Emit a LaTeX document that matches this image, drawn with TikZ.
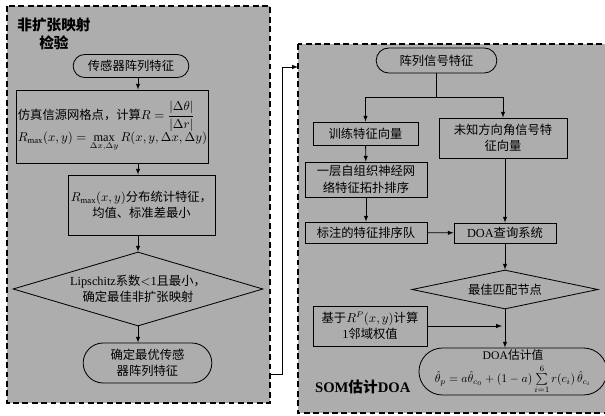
\documentclass[tikz,border=0pt]{standalone}
\usepackage{fontspec}
\usepackage{amsmath}
\setmainfont{Liberation Serif}
\newfontfamily\cjk{Noto Sans CJK SC}
\usetikzlibrary{calc,shapes.geometric,shapes.misc}
\tikzset{
  >=latex,
  panel/.style={draw, line width=0.5mm, dashed, dash pattern=on 5pt off 3pt, fill=black!32},
  box/.style={draw, line width=0.25mm, inner sep=1pt, align=center, font=\fontsize{10.5}{14}\selectfont},
  pill/.style={box, rounded rectangle},
  rhomb/.style={box, diamond, inner sep=0pt},
  title/.style={align=center, font=\fontsize{12.5}{15}\selectfont\bfseries},
  arr/.style={->, line width=0.25mm}
}
\begin{document}
\begin{tikzpicture}[x=0.03cm,y=-0.03cm]
		%%%%% START %%%%%
		\useasboundingbox (0,0) rectangle (605,416);
		
		% left panel
		\draw[panel] (7,6) rectangle (270,403);
		\node[title] (ttlL) at (54,34) {\cjk 非扩张映射\\\cjk 检验};
		
		\node[pill, minimum width=118*0.3mm, minimum height=23*0.3mm] (start1) at (131,66) {\cjk 传感器阵列特征};
		\node[box, minimum width=141*0.3mm, minimum height=73*0.3mm, align=left] (sim) at (112.5,126.5)
			{{\cjk 仿真信源网格点，计算}$R=\dfrac{|\Delta\theta|}{|\Delta r|}$\\[-1pt]
			 $R_{\max}(x,y)=\max\limits_{\Delta x,\Delta y}R(x,y,\Delta x,\Delta y)$};
		\node[box, minimum width=147*0.3mm, minimum height=60*0.3mm] (stat) at (141.5,205)
			{$R_{\max}(x,y)${\cjk 分布统计特征，}\\{\cjk 均值、标准差最小}};
		\node[rhomb, minimum width=250*0.3mm, minimum height=74*0.3mm, aspect=3.4] (lip) at (138,289)
			{Lipschitz{\cjk 系数}$<$1{\cjk 且最小，}\\{\cjk 确定最佳非扩张映射}};
		\node[pill, minimum width=131*0.3mm, minimum height=40*0.3mm] (end1) at (147.5,363)
			{\cjk 确定最优传感\\\cjk 器阵列特征};
		
		\draw[arr] (start1.south -| lip) -- (sim.north -| lip);
		\draw[arr] (sim.south -| lip) -- (stat.north -| lip);
		\draw[arr] (stat.south -| lip) -- (lip.north);
		\draw[arr] (lip.south) -- (end1.north -| lip);
		
		% right panel
		\draw[panel] (298,44) rectangle (620,413);
		\coordinate (lnkA) at (270,374);
		\coordinate (lnkB) at (298,67);
		\draw[arr] (lnkA) -- ++(12,0) |- (lnkB);
		
		\node[pill, minimum width=123*0.3mm, minimum height=25*0.3mm] (start2) at (436.5,60.5) {\cjk 阵列信号特征};
		\node[box, minimum width=105*0.3mm, minimum height=23*0.3mm] (train) at (365.5,133.5) {\cjk 训练特征向量};
		\node[box, minimum width=128*0.3mm, minimum height=40*0.3mm] (unk) at (503,138) {\cjk 未知方向角信号特\\\cjk 征向量};
		\node[box, minimum width=122*0.3mm, minimum height=35*0.3mm] (som) at (366,179.5) {\cjk 一层自组织神经网\\\cjk 络特征拓扑排序};
		\node[box, minimum width=122*0.3mm, minimum height=21*0.3mm] (tag) at (366,232.5) {\cjk 标注的特征排序队};
		\node[box, minimum width=102*0.3mm, minimum height=20*0.3mm] (doa) at (505,233) {DOA{\cjk 查询系统}};
		\node[rhomb, minimum width=186*0.3mm, minimum height=39*0.3mm, aspect=4.8] (match) at (505,289.5) {\cjk 最佳匹配节点};
		\node[box, minimum width=114*0.3mm, minimum height=40*0.3mm] (wgt) at (370,326) {{\cjk 基于}$R^P(x,y)${\cjk 计算}\\1{\cjk 邻域权值}};
		\node[pill, minimum width=180*0.3mm, minimum height=47*0.3mm, inner sep=0pt, font=\fontsize{10}{11}\selectfont] (est) at (513,371.5)
			{DOA{\cjk 估计值}\\[3pt]$\hat{\theta}_p=a\hat{\theta}_{c_0}+(1-a)\sum\limits_{i=1}^{6}r(c_i)\,\hat{\theta}_{c_i}$};
		\node[title, anchor=west] (ttlR) at (311,387) {SOM{\cjk 估计}DOA};
		
		\coordinate (fork) at (start2.south |- 0,97);
		\draw[line width=0.25mm] (start2.south) -- (fork);
		\draw[arr] (fork) -| (train.north);
		\draw[arr] (fork) -| (unk.north);
		\draw[arr] (train) -- (som);
		\draw[arr] (som) -- (tag);
		\draw[arr] (tag) -- (doa);
		\draw[arr] (unk.south -| doa) -- (doa.north);
		\draw[arr] (doa) -- (match);
		\draw[arr] (match.south) -- (est.north -| match);
		\draw[arr] (wgt.east) -- ($(wgt.east -| match)+(-3,0)$);
		
		%%%%% END %%%%%
\end{tikzpicture}
\end{document}
